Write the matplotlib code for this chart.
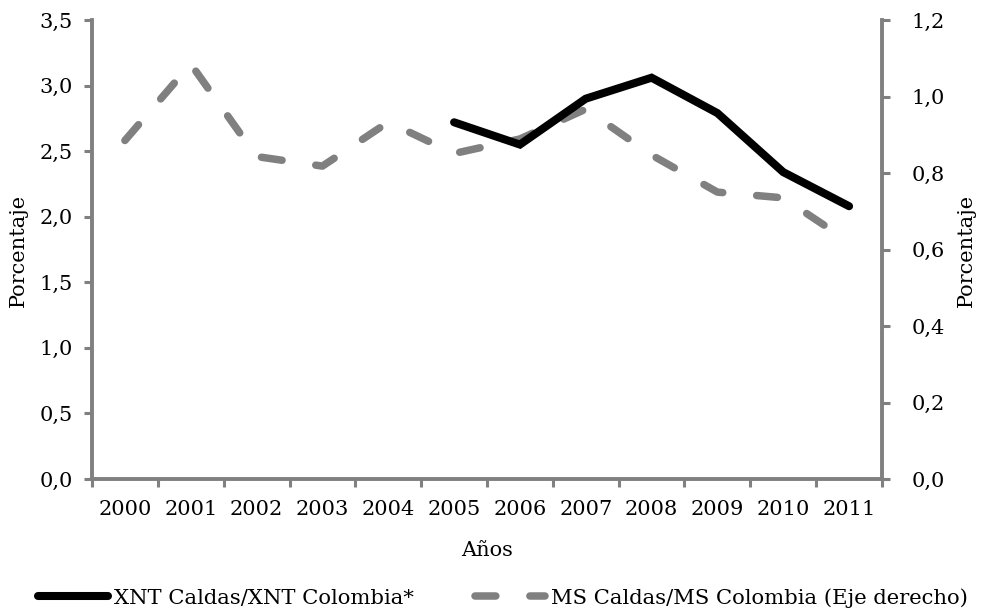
import matplotlib
matplotlib.use("Agg")
import matplotlib.pyplot as plt
import numpy as np

plt.rcParams['font.family'] = ['DejaVu Serif']
plt.rcParams['lines.scale_dashes'] = False

years = ['2000', '2001', '2002', '2003', '2004', '2005',
         '2006', '2007', '2008', '2009', '2010', '2011']
xnt_ratio = [np.nan, np.nan, np.nan, np.nan, np.nan,
             2.72, 2.55, 2.90, 3.06, 2.79, 2.34, 2.08]
ms_ratio = [0.885, 1.085, 0.843, 0.818, 0.933, 0.851,
            0.889, 0.967, 0.847, 0.75, 0.735, 0.62]
left_ticks = [0.0, 0.5, 1.0, 1.5, 2.0, 2.5, 3.0, 3.5]
right_ticks = [0.0, 0.2, 0.4, 0.6, 0.8, 1.0, 1.2]
label_xnt = 'XNT Caldas/XNT Colombia*'
label_ms = 'MS Caldas/MS Colombia (Eje derecho)'

W, H = 982, 613
fig = plt.figure(figsize=(W / 100, H / 100), dpi=100)
ax = fig.add_axes([92 / W, 1 - 479 / H, (882 - 92) / W, (479 - 20) / H])
ax2 = ax.twinx()

x = np.arange(len(years))
gray = '#808080'
fs = 15

l2, = ax2.plot(x, ms_ratio, color=gray, lw=5.4, dashes=(15, 24.5),
               dash_capstyle='round', solid_capstyle='round', label=label_ms)
l1, = ax.plot(x, xnt_ratio, color='black', lw=5.8, solid_capstyle='round',
              solid_joinstyle='miter', label=label_xnt)
ax.set_zorder(ax2.get_zorder() + 1)
ax.patch.set_visible(False)

ax.set_xlim(-0.5, len(years) - 0.5)
ax.set_ylim(0, 3.5)
ax2.set_ylim(0, 1.2)

def fmt(v):
    return f'{v:.1f}'.replace('.', ',')

ax.set_yticks(left_ticks)
ax.set_yticklabels([fmt(v) for v in left_ticks], fontsize=fs)
ax2.set_yticks(right_ticks)
ax2.set_yticklabels([fmt(v) for v in right_ticks], fontsize=fs)

ax.set_xticks(np.arange(len(years) + 1) - 0.5)
ax.set_xticklabels([])
ax.set_xticks(x, minor=True)
ax.set_xticklabels(years, minor=True, fontsize=fs)
ax.tick_params(axis='x', which='minor', length=0, pad=15)
ax.tick_params(axis='x', which='major', length=6, width=2.2, color=gray, direction='out')
ax.tick_params(axis='y', length=6, width=2.2, color=gray, pad=8)
ax2.tick_params(axis='y', length=6, width=2.2, color=gray, pad=15.5)

for a in (ax, ax2):
    for s in a.spines.values():
        s.set_visible(False)
ax.spines['left'].set_visible(True)
ax.spines['bottom'].set_visible(True)
ax2.spines['right'].set_visible(True)
for s in (ax.spines['left'], ax.spines['bottom'], ax2.spines['right']):
    s.set_color(gray)
    s.set_linewidth(2.8)

fig.text(18 / W, 1 - 250 / H, 'Porcentaje', rotation=90, ha='center', va='center', fontsize=fs)
fig.text(966 / W, 1 - 250 / H, 'Porcentaje', rotation=90, ha='center', va='center', fontsize=fs)
fig.text(0.5 * (92 + 882) / W, 1 - 551 / H, 'Años', ha='center', va='center', fontsize=fs)

leg = fig.legend(handles=[l1, l2], loc='center', bbox_to_anchor=(503 / W, 1 - 598 / H),
                 ncol=2, frameon=False, fontsize=15.2, handlelength=3.3,
                 handletextpad=0.3, columnspacing=2.9, borderpad=0, borderaxespad=0)

fig.savefig('out.png', dpi=100)
